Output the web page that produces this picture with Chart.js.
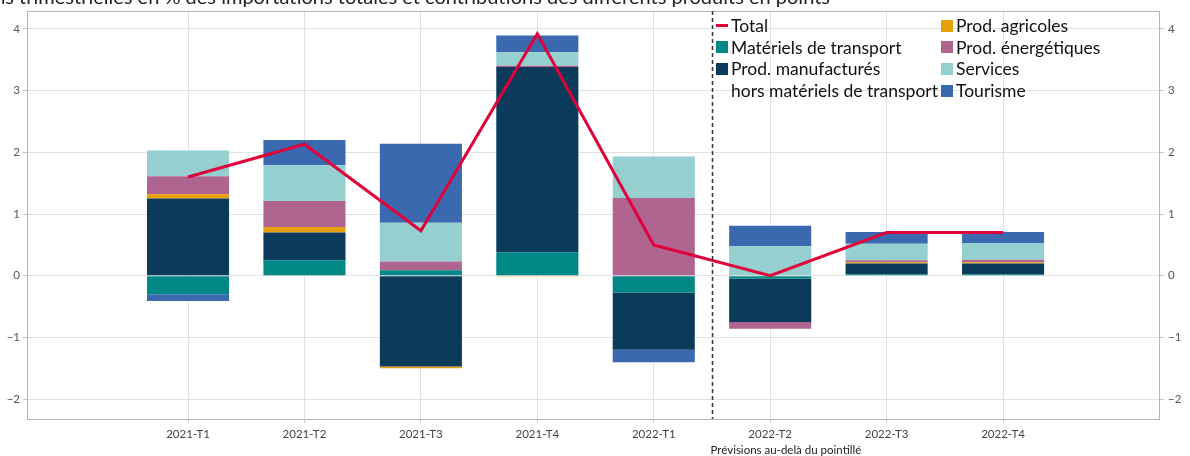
<!DOCTYPE html>
<html>
<head>
<meta charset="utf-8">
<script src="https://cdn.jsdelivr.net/npm/chart.js@4"></script>
<style>
  html, body { margin: 0; padding: 0; background: #fff; overflow: hidden; }
  #wrap { position: relative; width: 1190px; height: 456px; overflow: hidden; }
  #title {
    position: absolute; right: 360px; top: -16px; white-space: nowrap;
    font: 20px Lato, sans-serif; color: #222;
  }
  #legend {
    position: absolute; left: 716px; top: 15px;
    display: grid; grid-template-columns: 225px 220px; grid-auto-flow: column;
    grid-template-rows: repeat(4, 21.6px);
    font: 17.5px Lato, sans-serif; color: #111;
  }
  #legend div { display: flex; align-items: center; white-space: nowrap; }
  #legend i { display: inline-block; width: 12px; height: 12px; margin-right: 3px; flex: none; }
</style>
</head>
<body>
<div id="wrap">
  <canvas id="myChart" width="1190" height="456"></canvas>
  <div id="title">Variations trimestrielles en % des importations totales et contributions des différents produits en points</div>
  <div id="legend"></div>
</div>
<script>
const categories = ["2021-T1", "2021-T2", "2021-T3", "2021-T4", "2022-T1", "2022-T2", "2022-T3", "2022-T4"];
const total = [1.60, 2.13, 0.73, 3.92, 0.50, 0.00, 0.70, 0.70];
const transport = [-0.30, 0.25, 0.09, 0.38, -0.27, -0.05, 0.02, 0.02];
const manuf = [1.25, 0.45, -1.47, 3.00, -0.93, -0.70, 0.18, 0.18];
const agri = [0.07, 0.09, -0.03, -0.01, 0.00, 0.00, 0.02, 0.02];
const energy = [0.29, 0.42, 0.14, 0.02, 1.26, -0.11, 0.03, 0.04];
const services = [0.42, 0.58, 0.63, 0.22, 0.67, 0.48, 0.27, 0.27];
const tourism = [-0.11, 0.41, 1.28, 0.27, -0.20, 0.33, 0.19, 0.18];
const forecastFrom = 4.5; // dashed line between 2022-T1 and 2022-T2

const pts = (arr) => arr.map((v, i) => ({ x: i, y: v }));
const bar = (label, arr, color) => ({
  type: "bar", label: label, data: pts(arr), backgroundColor: color,
  borderWidth: 0, categoryPercentage: 0.705, barPercentage: 1,
});

const datasets = [
  { type: "line", label: "Total", data: pts(total), borderColor: "#e2003b",
    borderWidth: 3, pointRadius: 0, tension: 0 },
  bar("Matériels de transport", transport, "#008786"),
  bar("Prod. manufacturés hors matériels de transport", manuf, "#0b3a5a"),
  bar("Prod. agricoles", agri, "#e8a00a"),
  bar("Prod. énergétiques", energy, "#b06490"),
  bar("Services", services, "#96cfcf"),
  bar("Tourisme", tourism, "#3a69b0"),
];

const tickFont = { family: "Lato", size: 11.5 };
const fmt = (v) => (v < 0 ? "\u2212" + Math.abs(v) : String(v));

const extras = {
  id: "extras",
  beforeDatasetsDraw(chart) {
    const { ctx, chartArea: a } = chart;
    ctx.save();
    ctx.strokeStyle = "#b4b4b4";
    ctx.lineWidth = 1;
    ctx.strokeRect(a.left + 0.5, a.top + 0.5, a.right - a.left - 1, a.bottom - a.top);
    ctx.restore();
  },
  afterDatasetsDraw(chart) {
    const { ctx, chartArea: a } = chart;
    const x = Math.round(chart.scales.x.getPixelForValue(forecastFrom)) + 0.5;
    ctx.save();
    ctx.strokeStyle = "#333";
    ctx.lineWidth = 1.5;
    ctx.setLineDash([4, 3]);
    ctx.beginPath();
    ctx.moveTo(x, a.top);
    ctx.lineTo(x, a.bottom);
    ctx.stroke();
    ctx.setLineDash([]);
    ctx.fillStyle = "#222";
    ctx.font = "11.5px Lato";
    ctx.textBaseline = "middle";
    ctx.fillText("Prévisions au-delà du pointillé", x - 2, 450);
    ctx.restore();
  },
};

const ctx = document.getElementById("myChart").getContext("2d");
const chart = new Chart(ctx, {
  data: { datasets: datasets },
  options: {
    responsive: false,
    animation: false,
    layout: { padding: { top: 8, left: 0, right: 0, bottom: 0 } },
    plugins: { legend: { display: false }, tooltip: { enabled: false } },
    scales: {
      x: {
        type: "linear", min: -1.383, max: 8.348, stacked: true, offset: false,
        afterBuildTicks: (s) => { s.ticks = categories.map((c, i) => ({ value: i })); },
        afterFit: (s) => { s.height = 37; },
        ticks: { callback: (v) => categories[v], font: tickFont, color: "#444", padding: 4, maxRotation: 0 },
        grid: { offset: false, color: "#e2e2e2", tickLength: 4, tickColor: "#c8c8c8" },
        border: { display: false },
      },
      y: {
        stacked: true, min: -2.32, max: 4.29,
        afterBuildTicks: (s) => { s.ticks = [-2, -1, 0, 1, 2, 3, 4].map((v) => ({ value: v })); },
        afterFit: (s) => { s.width = 27; },
        ticks: { callback: fmt, font: tickFont, color: "#555", padding: 3 },
        grid: { color: "#e2e2e2", tickLength: 4, tickColor: "#c8c8c8" },
        border: { display: false },
      },
      y2: {
        position: "right", display: true, min: -2.32, max: 4.29,
        afterBuildTicks: (s) => { s.ticks = [-2, -1, 0, 1, 2, 3, 4].map((v) => ({ value: v })); },
        afterFit: (s) => { s.width = 30; },
        ticks: { callback: fmt, font: tickFont, color: "#555", padding: 4 },
        grid: { drawOnChartArea: false, tickLength: 4, tickColor: "#c8c8c8" },
        border: { display: false },
      },
    },
  },
  plugins: [extras],
});

// legend in two columns, alphabetical like the original
const legendOrder = ["Total", "Matériels de transport", "Prod. manufacturés hors matériels de transport",
  "Prod. agricoles", "Prod. énergétiques", "Services", "Tourisme"];
const legend = document.getElementById("legend");
legendOrder.forEach((name) => {
  const ds = datasets.find((d) => d.label === name);
  const row = document.createElement("div");
  if (ds.type === "line") {
    row.innerHTML = '<i style="height:3px;background:' + ds.borderColor + '"></i>' + name;
  } else if (name.indexOf(" hors ") > 0) {
    row.innerHTML = '<i style="background:' + ds.backgroundColor + '"></i>Prod. manufacturés';
    legend.appendChild(row);
    const row2 = document.createElement("div");
    row2.innerHTML = "<i></i>hors matériels de transport";
    legend.appendChild(row2);
    return;
  } else {
    row.innerHTML = '<i style="background:' + ds.backgroundColor + '"></i>' + name;
  }
  legend.appendChild(row);
});
</script>
</body>
</html>
